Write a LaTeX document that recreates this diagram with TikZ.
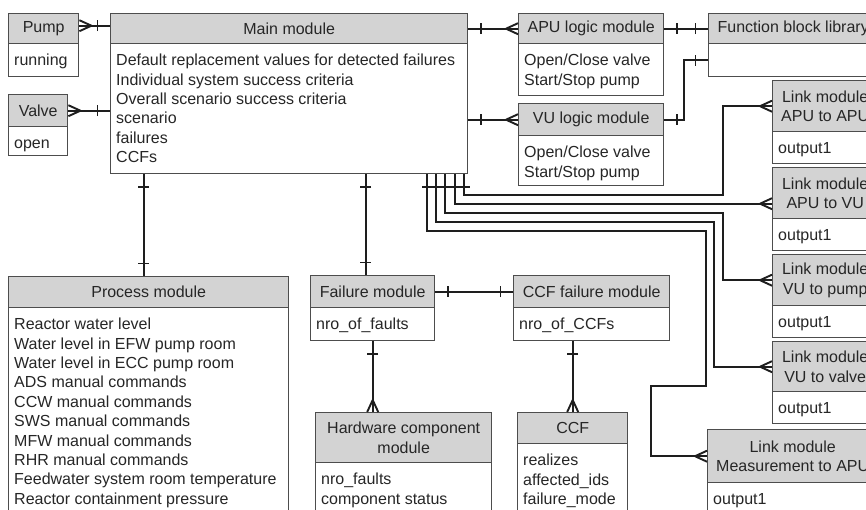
\documentclass[tikz,border=0pt]{standalone}
\usepackage{fontspec}
\setmainfont{Liberation Sans}
\definecolor{edge}{HTML}{4D4D4D}
\definecolor{hdrfill}{HTML}{D3D3D3}
\definecolor{wire}{HTML}{1E1E1E}
\definecolor{txt}{HTML}{262626}
% one entity: header box, body box and body text
% #1 name, #2 left, #3 right, #4 top, #5 header bottom, #6 bottom, #7 title, #8 attributes
\newcommand\entity[8]{%
  \node[hdr, minimum width={#3-#2}, minimum height={#5-#4}, anchor=north west] (#1H) at (#2,#4) {#7};
  \node[bodybox, minimum width={#3-#2}, minimum height={#6-#5}, anchor=north west] (#1B) at (#2,#5) {};
  \node[bodytext, anchor=north west] (#1T) at ({#2+6},{#5+9}) {\strut#8};
}
\begin{document}
\begin{tikzpicture}[x=1pt,y=-1pt,
  every node/.style={font=\fontsize{16}{19.4}\selectfont, text=txt},
  hdr/.style={draw=edge, fill=hdrfill, line width=1.4pt, inner sep=0pt, align=center},
  bodybox/.style={draw=edge, fill=white, line width=1.4pt, inner sep=0pt},
  bodytext/.style={inner sep=0pt, align=left},
  conn/.style={draw=wire, line width=1.9pt},
  pics/onebar/.style={code={\draw[conn] (#1,-5.5) -- (#1,5.5);}},
  pics/crowfoot/.style={code={\draw[conn] (12,0) -- (0,5.5) (12,0) -- (0,-5.5);}},
]
\fill[white] (0,0) rectangle (866,509);
\useasboundingbox (0,0) rectangle (866,509);
\clip (0,0) rectangle (866,509);

% ---------- entities ----------
\entity{pump}{8}{78}{13}{43}{76}{Pump}{running}
\entity{valve}{8}{67}{94}{126}{155}{Valve}{open}
\entity{main}{110}{467}{13}{43}{173}{Main module}{Default replacement values for detected failures\\Individual system success criteria\\Overall scenario success criteria\\scenario\\failures\\CCFs}
\entity{apu}{518}{663}{13}{43}{95}{APU logic module}{Open/Close valve\\Start/Stop pump}
\entity{vu}{518}{663}{103}{135}{185}{VU logic module}{Open/Close valve\\Start/Stop pump}
\node[hdr, minimum width=169, minimum height=30, anchor=north west] (fblH) at (708,13) {Function block library};
\node[bodybox, minimum width=169, minimum height=33, anchor=north west] (fblB) at (708,43) {};
\entity{laa}{772}{877}{80}{131}{163}{Link module\\APU to APU}{output1}
\entity{lav}{772}{877}{167}{218}{250}{Link module\\APU to VU}{output1}
\entity{lvp}{772}{877}{254}{305}{337}{Link module\\VU to pump}{output1}
\entity{lvv}{772}{877}{341}{391}{423}{Link module\\VU to valve}{output1}
\entity{lma}{707}{877}{429}{482}{540}{Link module\\Measurement to APU}{output1}
\entity{proc}{8}{288}{276}{307}{540}{Process module}{Reactor water level\\Water level in EFW pump room\\Water level in ECC pump room\\ADS manual commands\\CCW manual commands\\SWS manual commands\\MFW manual commands\\RHR manual commands\\Feedwater system room temperature\\Reactor containment pressure}
\entity{fail}{310}{434}{275}{307}{340}{Failure module}{nro\_of\_faults}
\entity{ccff}{513}{669}{275}{307}{340}{CCF failure module}{nro\_of\_CCFs}
\entity{hw}{315}{491}{412}{462}{540}{Hardware component\\module}{nro\_faults\\component status}
\entity{ccf}{517}{627}{412}{443}{540}{CCF}{realizes\\affected\_ids\\failure\_mode}

% ---------- connectors ----------
% pump / valve to main
\coordinate (pp) at ([yshift=3pt]pumpH.east);
\draw[conn] (pp) -- (mainH.west |- pp);
\pic at (pp) {crowfoot};
\pic[rotate=180] at (mainH.west |- pp) {onebar=12.5};
\draw[conn] (valveH.east) -- (mainB.west |- valveH.east);
\pic at (valveH.east) {crowfoot};
\pic[rotate=180] at (mainB.west |- valveH.east) {onebar=12.5};

% main to logic modules
\draw[conn] (mainH.east |- apuH.west) -- (apuH.west);
\pic at (mainH.east |- apuH.west) {onebar=12.5};
\pic[rotate=180] at (apuH.west) {crowfoot};
\draw[conn] (mainB.east |- vuH.west) -- (vuH.west);
\pic at (mainB.east |- vuH.west) {onebar=12.5};
\pic[rotate=180] at (vuH.west) {crowfoot};

% logic modules to function block library
\draw[conn] (apuH.east) -- (fblH.west);
\pic at (apuH.east) {onebar=12.5};
\pic[rotate=180] at (fblH.west) {onebar=12.5};
\draw[conn] (vuH.east) -- ++(20,0) |- (fblB.west);
\pic at (vuH.east) {onebar=12.5};
\pic[rotate=180] at (fblB.west) {onebar=12.5};

% main to process and failure modules
\coordinate (pj) at ([xshift=-5pt]procH.north);
\draw[conn] (mainB.south -| pj) -- (pj);
\pic[rotate=-90] at (mainB.south -| pj) {onebar=12.5};
\pic[rotate=90] at (pj) {onebar=12.5};
\coordinate (fj) at ([xshift=-7pt]failH.north);
\draw[conn] (mainB.south -| fj) -- (fj);
\pic[rotate=-90] at (mainB.south -| fj) {onebar=12.5};
\pic[rotate=90] at (fj) {onebar=12.5};

% failure module relations
\draw[conn] (failH.east) -- (ccffH.west);
\pic at (failH.east) {onebar=12.5};
\pic[rotate=180] at (ccffH.west) {onebar=12.5};
\draw[conn] (failB.south) -- (failB.south |- hwH.north);
\pic[rotate=-90] at (failB.south) {onebar=12.5};
\pic[rotate=90] at (failB.south |- hwH.north) {crowfoot};
\draw[conn] (ccffB.south -| ccfH.north) -- (ccfH.north);
\pic[rotate=-90] at (ccffB.south -| ccfH.north) {onebar=12.5};
\pic[rotate=90] at (ccfH.north) {crowfoot};

% main to link modules
\coordinate (m1) at ([xshift=-4pt]mainB.south east);
\coordinate (m2) at ([xshift=-13pt]mainB.south east);
\coordinate (m3) at ([xshift=-23pt]mainB.south east);
\coordinate (m4) at ([xshift=-32pt]mainB.south east);
\coordinate (m5) at ([xshift=-41pt]mainB.south east);
\foreach \m in {m1,m2,m3,m4,m5} {\pic[rotate=-90] at (\m) {onebar=12.5};}
\coordinate (avj) at ([yshift=-10.5pt]lavH.west);
\draw[conn] (m1) -- ++(0,21) -| ([xshift=-49pt]laaH.west) -- (laaH.west);
\draw[conn] (m2) |- (avj);
\draw[conn] (m3) -- ++(0,39) -| ([xshift=-49pt]lvpH.west) -- (lvpH.west);
\draw[conn] (m4) -- ++(0,48) -| ([xshift=-58pt]lvvH.west) -- (lvvH.west);
\draw[conn] (m5) -- ++(0,57) -- ++(279,0) -- ++(0,155) -- ++(-55,0) |- (lmaH.west);
\pic[rotate=180] at (laaH.west) {crowfoot};
\pic[rotate=180] at (avj) {crowfoot};
\pic[rotate=180] at (lvpH.west) {crowfoot};
\pic[rotate=180] at (lvvH.west) {crowfoot};
\pic[rotate=180] at (lmaH.west) {crowfoot};
\end{tikzpicture}
\end{document}
